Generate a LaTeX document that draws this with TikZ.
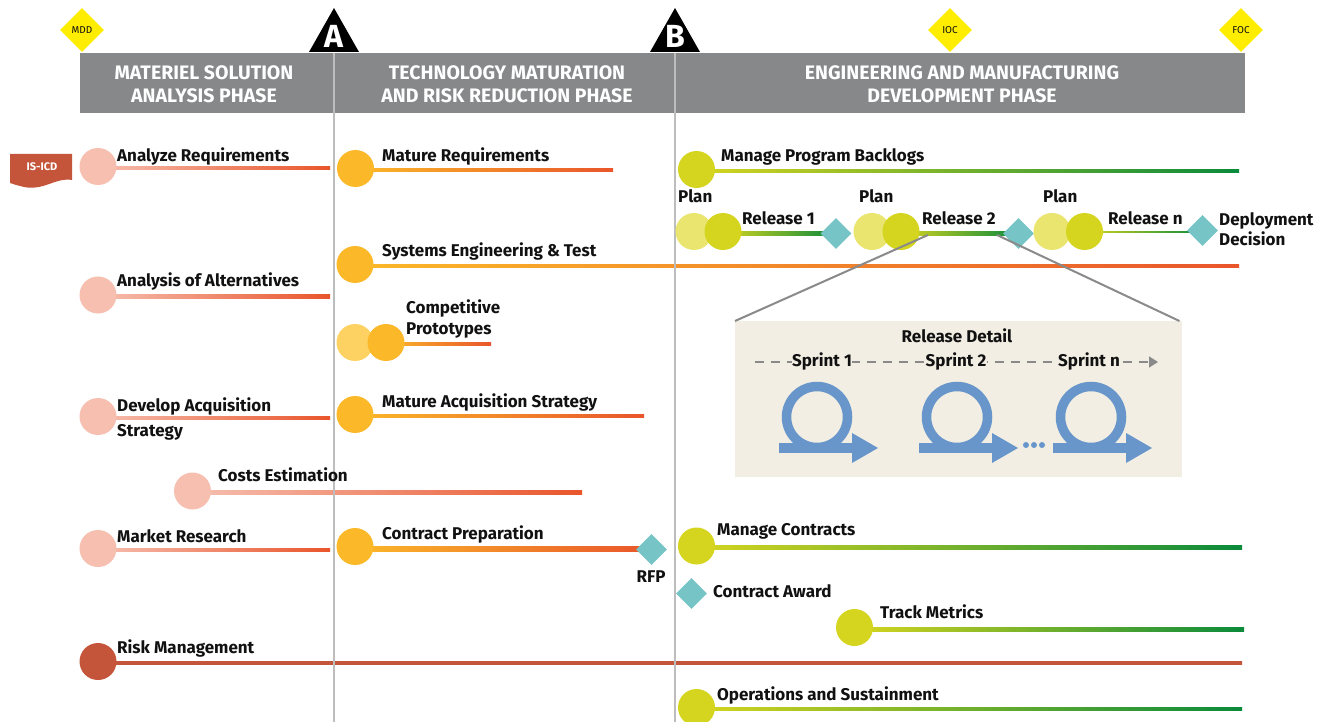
\documentclass[tikz,border=0pt]{standalone}
\usepackage{fontspec}
\setmainfont{Fira Sans}
\usetikzlibrary{shapes.geometric,arrows.meta,calc}

\pgfdeclarelayer{bars}
\pgfsetlayers{bars,main}

\definecolor{hdrgray}{HTML}{87888A}
\definecolor{phaseline}{HTML}{BDBDBD}
\definecolor{msa}{HTML}{F6BFB0}
\definecolor{barend}{HTML}{E9552B}
\definecolor{tmrr}{HTML}{FBB829}
\definecolor{tmrrlt}{HTML}{FDD262}
\definecolor{emd}{HTML}{D5D51F}
\definecolor{emdlt}{HTML}{E9E56F}
\definecolor{emdend}{HTML}{0A8A3B}
\definecolor{gateteal}{HTML}{76C4C6}
\definecolor{risk}{HTML}{C4553A}
\definecolor{mileyellow}{HTML}{FFED00}
\definecolor{relbox}{HTML}{F2EEE3}
\definecolor{loopblue}{HTML}{6896CB}
\definecolor{connector}{HTML}{8A8A8A}
\definecolor{ink}{HTML}{111111}

\newcommand\lblfont{\fontsize{17}{20}\selectfont\bfseries}
\newcommand\hdrfont{\fontsize{19.5}{23}\selectfont\bfseries}
% activity bar: shaded strip from a dot to an end point
\newcommand\tlbar[4]{\shade[left color=#3,right color=#4] ([yshift=0.25pt]#1.center) rectangle ([yshift=-1.75pt]#2);}

\begin{document}
\begin{tikzpicture}[x=1pt,y=-1pt,
  dot/.style={circle, inner sep=0, minimum size=37, draw=none},
  lbl/.style={anchor=base west, inner sep=0, font=\lblfont, text=ink},
  lbl2/.style={anchor=north west, inner sep=0, font=\lblfont, text=ink, align=left},
  gate/.style={diamond, inner sep=0, minimum size=31, fill=gateteal},
  mile/.style={diamond, inner sep=0, minimum size=44, fill=mileyellow, text=ink, font=\fontsize{10}{12}\selectfont},
  hdr/.style={text=white, font=\hdrfont, align=center, inner sep=0},
  msletter/.style={text=white, anchor=base, inner sep=0, font=\fontsize{32}{32}\selectfont\bfseries},
  sprint/.style={anchor=base, fill=relbox, inner xsep=0.5pt, inner ysep=0pt, font=\lblfont, text=ink}]
\useasboundingbox (0,0) rectangle (1318,722);
\begin{pgfonlayer}{bars}
  \fill[white] (0,0) rectangle (1318,722);
\end{pgfonlayer}

% phase header
\fill[hdrgray] (80,53) rectangle (1245,113);
\draw[phaseline, line width=2.2] (334,53) -- (334,722);
\draw[phaseline, line width=2.2] (675,53) -- (675,722);
\node[hdr] (ph1) at (204,84) {MATERIEL SOLUTION\\ANALYSIS PHASE};
\node[hdr] (ph2) at (507,84) {TECHNOLOGY MATURATION\\AND RISK REDUCTION PHASE};
\node[hdr] (ph3) at (962,84) {ENGINEERING AND MANUFACTURING\\DEVELOPMENT PHASE};

% milestone decision points
\fill[black] (334,8) -- (359,52) -- (309,52) -- cycle;
\node[msletter] (msA) at (334,48) {A};
\fill[black] (675,8) -- (700,52) -- (650,52) -- cycle;
\node[msletter] (msB) at (675,48) {B};
\node[mile] (mdd) at (82,30) {MDD};
\node[mile] (ioc) at (950,30) {IOC};
\node[mile] (foc) at (1241,30) {FOC};

% input document
\fill[risk] (10,154) -- (72,154) -- (72,180) .. controls (56,177) and (44,191) .. (24,187) .. controls (16,185) .. (10,183) -- cycle;
\node[text=white, font=\fontsize{11}{12}\selectfont\bfseries, inner sep=0] (isicd) at (42,167) {IS-ICD};

% ---------- activity dots ----------
\node[dot, fill=msa] (ar) at (98,166.5) {};
\node[dot, fill=msa] (aa) at (98,295) {};
\node[dot, fill=msa] (da) at (98,416.5) {};
\node[dot, fill=msa] (ce) at (192.5,491) {};
\node[dot, fill=msa] (mk) at (98,548.5) {};
\node[dot, fill=risk] (rm) at (98,661.5) {};

\node[dot, fill=tmrr] (mr) at (355.5,168.5) {};
\node[dot, fill=tmrr] (se) at (355,264.5) {};
\node[dot, fill=tmrrlt] (cpl) at (355,342.5) {};
\node[dot, fill=tmrr] (cp) at (386,342.5) {};
\node[dot, fill=tmrr] (ma) at (355,414.5) {};
\node[dot, fill=tmrr] (cpr) at (355,546.5) {};
\node[gate] (rfp) at (651.5,549.5) {};

\node[dot, fill=emd] (pb) at (696.5,169.5) {};
\node[dot, fill=emdlt] (p1) at (694,231.5) {};
\node[dot, fill=emd] (r1) at (723,231.5) {};
\node[gate] (g1) at (836,233.5) {};
\node[dot, fill=emdlt] (p2) at (872,231.5) {};
\node[dot, fill=emd] (r2) at (901,231.5) {};
\node[gate] (g2) at (1018.5,233.5) {};
\node[dot, fill=emdlt] (p3) at (1052,231.5) {};
\node[dot, fill=emd] (r3) at (1084.5,231.5) {};
\node[gate] (g3) at (1202.5,230.5) {};
\node[dot, fill=emd] (mc) at (696.5,546) {};
\node[gate] (ca) at (691.5,593.5) {};
\node[dot, fill=emd] (tm) at (854.5,627.5) {};
\node[dot, fill=emd] (os) at (696.5,707.5) {};

% bar end points
\coordinate (arE) at (330,168);
\coordinate (aaE) at (330,297);
\coordinate (daE) at (330,418);
\coordinate (ceE) at (582,492.5);
\coordinate (mkE) at (330,549.5);
\coordinate (rmE) at (1242,663);
\coordinate (mrE) at (613,170);
\coordinate (seE) at (1239,266);
\coordinate (cpE) at (491,344);
\coordinate (maE) at (644,416);
\coordinate (pbE) at (1239,171);
\coordinate (mcE) at (1242,547.5);
\coordinate (tmE) at (1244,629.5);
\coordinate (osE) at (1242,709);

\begin{pgfonlayer}{bars}
  \tlbar{ar}{arE}{msa}{barend}
  \tlbar{aa}{aaE}{msa}{barend}
  \tlbar{da}{daE}{msa}{barend}
  \tlbar{ce}{ceE}{msa}{barend}
  \tlbar{mk}{mkE}{msa}{barend}
  \tlbar{rm}{rmE}{risk}{risk}
  \tlbar{mr}{mrE}{tmrr}{barend}
  \tlbar{se}{seE}{tmrr}{barend}
  \tlbar{cp}{cpE}{tmrr}{barend}
  \tlbar{ma}{maE}{tmrr}{barend}
  \tlbar{cpr}{rfp}{tmrr}{barend}
  \tlbar{pb}{pbE}{emd}{emdend}
  \tlbar{r1}{g1}{emd}{emdend}
  \tlbar{r2}{g2}{emd}{emdend}
  \tlbar{r3}{g3}{emd}{emdend}
  \tlbar{mc}{mcE}{emd}{emdend}
  \tlbar{tm}{tmE}{emd}{emdend}
  \tlbar{os}{osE}{emd}{emdend}
\end{pgfonlayer}

% ---------- labels ----------
\node[lbl] (arL) at (117,162) {Analyze Requirements};
\node[lbl] (aaL) at (117,287) {Analysis of Alternatives};
\node[lbl2, font=\fontsize{17}{25}\selectfont\bfseries] (daL) at (117,398) {Develop Acquisition\\Strategy};
\node[lbl] (ceL) at (218,481) {Costs Estimation};
\node[lbl] (mkL) at (117,542) {Market Research};
\node[lbl] (rmL) at (117,653) {Risk Management};

\node[lbl] (mrL) at (382,162) {Mature Requirements};
\node[lbl] (seL) at (382,257) {Systems Engineering \& Test};
\node[lbl2, font=\fontsize{17}{21}\selectfont\bfseries] (cpL) at (406,300) {Competitive\\Prototypes};
\node[lbl] (maL) at (382,407) {Mature Acquisition Strategy};
\node[lbl] (cprL) at (382,539) {Contract Preparation};
\node[lbl, anchor=base] (rfpL) at (651,582) {RFP};

\node[lbl] (pbL) at (721,162) {Manage Program Backlogs};
\node[lbl] (p1L) at (678,203) {Plan};
\node[lbl] (r1L) at (742,225) {Release 1};
\node[lbl] (p2L) at (859,203) {Plan};
\node[lbl] (r2L) at (922,225) {Release 2};
\node[lbl] (p3L) at (1043,203) {Plan};
\node[lbl] (r3L) at (1108,225) {Release n};
\node[lbl2, font=\fontsize{17}{20}\selectfont\bfseries] (ddL) at (1219,212) {Deployment\\Decision};
\node[lbl] (mcL) at (717,535) {Manage Contracts};
\node[lbl] (caL) at (713,597) {Contract Award};
\node[lbl] (tmL) at (880,618) {Track Metrics};
\node[lbl] (osL) at (717,700) {Operations and Sustainment};

% ---------- release detail ----------
\node[fill=relbox, inner sep=0, minimum width=447, minimum height=156, anchor=north west] (rd) at (735,321) {};
\coordinate (z1) at (928,235);
\coordinate (z2) at (997,235);
\draw[connector, line width=2] (z1) -- (rd.north west);
\draw[connector, line width=2] (z2) -- ([xshift=-3pt]rd.north east);
\node[lbl, anchor=base] (rdL) at (957,342) {Release Detail};

\coordinate (sd0) at (755,362);
\coordinate (sd1) at (1158,362);
\draw[connector, line width=1.6, dash pattern=on 9pt off 7pt, -{Triangle[length=9pt,width=11pt]}] (sd0) -- (sd1);
\node[sprint] (s1) at (822,366) {Sprint 1};
\node[sprint] (s2) at (956,366) {Sprint 2};
\node[sprint] (sn) at (1089,366) {Sprint n};

\foreach \cx in {817,957,1091} {
  \draw[loopblue, line width=9.5] (\cx,417) circle (30.5);
  \fill[loopblue] ({\cx-38},443) rectangle ({\cx+35},453);
  \fill[loopblue] ({\cx+35},433) -- ({\cx+61},448) -- ({\cx+35},463) -- cycle;
}
\foreach \dx in {1026,1034,1042} \fill[loopblue] (\dx,445) circle (3);
\end{tikzpicture}
\end{document}
